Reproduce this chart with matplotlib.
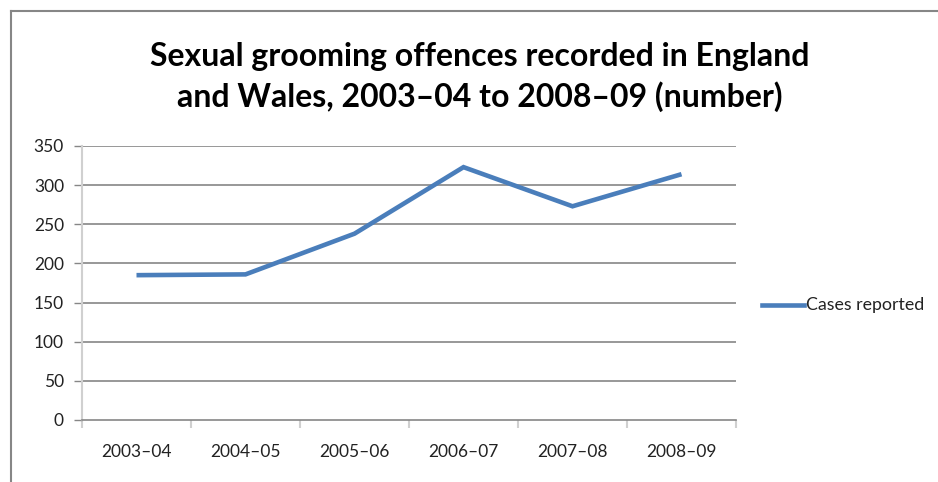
import matplotlib
matplotlib.use("Agg")
import matplotlib.pyplot as plt
from matplotlib.lines import Line2D

categories = ["2003\u201304", "2004\u201305", "2005\u201306", "2006\u201307", "2007\u201308", "2008\u201309"]
cases = [185, 186, 238, 323, 273, 314]
yticks = [0, 50, 100, 150, 200, 250, 300, 350]
series_name = "Cases reported"
title = "Sexual grooming offences recorded in England\nand Wales, 2003\u201304 to 2008\u201309 (number)"

W, H = 938, 482
fig = plt.figure(figsize=(W / 100, H / 100), dpi=100)
fig.patch.set_facecolor("white")

# chart-area border (top and left visible)
fig.add_artist(Line2D([11 / W, 1], [1 - 11 / H, 1 - 11 / H], transform=fig.transFigure, color="#868686", lw=1.5))
fig.add_artist(Line2D([11 / W, 11 / W], [0, 1 - 11 / H], transform=fig.transFigure, color="#868686", lw=1.5))

left, right, top, bottom = 82, 736, 146, 420
ax = fig.add_axes([left / W, 1 - bottom / H, (right - left) / W, (bottom - top) / H])

x = list(range(len(categories)))
ax.plot(x, cases, color="#4a7ebb", lw=3.3, solid_joinstyle="miter", solid_capstyle="butt")

ax.set_xlim(-0.5, len(categories) - 0.5)
ax.set_ylim(0, 350)
ax.set_yticks(yticks)
ax.set_yticklabels([str(v) for v in yticks])
ax.set_xticks(x)
ax.set_xticklabels(categories)
ax.set_xticks([i - 0.5 for i in range(len(categories) + 1)], minor=True)

for v in yticks[1:]:
    ax.axhline(v, color="#868686", lw=1.2, zorder=0)

for s in ["top", "right"]:
    ax.spines[s].set_visible(False)
ax.spines["left"].set_color("#d0d0d0")
ax.spines["left"].set_linewidth(1.5)
ax.spines["bottom"].set_color("#868686")
ax.spines["bottom"].set_linewidth(1.2)

font = "Lato"
ax.tick_params(axis="y", length=6, color="#868686", width=1.0, labelsize=12.5, pad=7, labelcolor="#222222")
ax.tick_params(axis="x", which="major", length=0, labelsize=12.5, pad=17, labelcolor="#222222")
ax.tick_params(axis="x", which="minor", length=6, color="#d0d0d0", width=1.5)
for lab in ax.get_xticklabels() + ax.get_yticklabels():
    lab.set_fontfamily(font)

fig.text(480 / W, 1 - 77 / H, title, ha="center", va="center", fontsize=23,
         fontweight="bold", fontfamily=font, linespacing=1.42, color="#000000")

# legend
fig.add_artist(Line2D([762 / W, 804 / W], [1 - 305 / H, 1 - 305 / H], transform=fig.transFigure,
                      color="#4a7ebb", lw=3.3))
fig.text(806 / W, 1 - 305 / H, series_name, ha="left", va="center", fontsize=12.8,
         fontfamily=font, color="#222222")

fig.savefig("out.png", dpi=100)
